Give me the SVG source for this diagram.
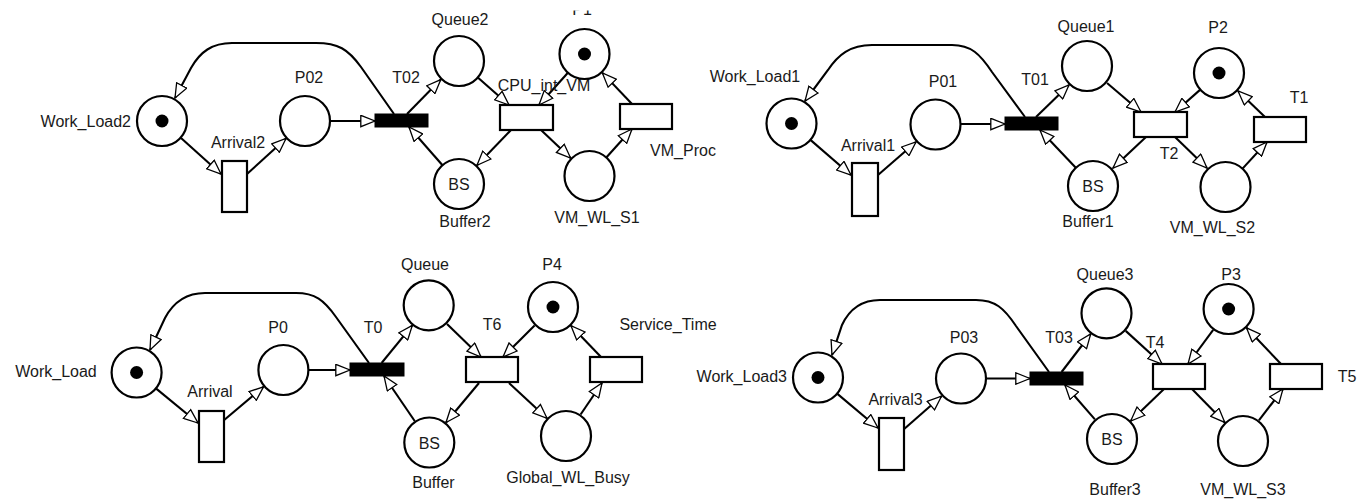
<svg xmlns="http://www.w3.org/2000/svg" width="1362" height="501" viewBox="0 0 1362 501">
<style>
.pl{fill:#fff;stroke:#000;stroke-width:2.2}
.tr{fill:#fff;stroke:#000;stroke-width:2.2}
.trb{fill:#000;stroke:#000;stroke-width:1}
.tok{fill:#000;stroke:none}
text{font-family:"Liberation Sans",Arial,sans-serif;font-size:16px;fill:#1a1a1a;text-anchor:middle}
.e{text-anchor:end}
#arcs path,#arcs line{stroke:#000;stroke-width:2.1;fill:none;marker-end:url(#ah)}
</style>
<defs>
<marker id="ah" markerUnits="userSpaceOnUse" viewBox="0 0 16 13" markerWidth="16" markerHeight="13" refX="15" refY="6.5" orient="auto">
<path d="M0.8,0.8 L15,6.5 L0.8,12.2 Z" fill="#fff" stroke="#000" stroke-width="1.3"/>
</marker>
<clipPath id="topclip"><rect x="0" y="10.5" width="1362" height="40"/></clipPath>
</defs>
<rect width="1362" height="501" fill="#fff"/>

<g id="arcs">
<!-- network A -->
<path d="M394 114 L361 67 C348 49 338 43 316 43 L232 43 C212 43 200 52 191 68 L175 98"/>
<line x1="181" y1="138" x2="221" y2="174"/>
<line x1="247" y1="174" x2="286" y2="138.5"/>
<line x1="330" y1="121" x2="375" y2="121"/>
<line x1="407" y1="114" x2="440.8" y2="79.6"/>
<line x1="442.5" y1="165.2" x2="409" y2="127"/>
<line x1="477.8" y1="77.5" x2="509" y2="105"/>
<line x1="567.9" y1="72.7" x2="539" y2="105"/>
<line x1="511" y1="130" x2="477" y2="165.3"/>
<line x1="541" y1="130" x2="570.6" y2="158.1"/>
<line x1="606.3" y1="157.5" x2="632" y2="129"/>
<line x1="632" y1="104" x2="602.4" y2="72.9"/>
<!-- network B -->
<path d="M1025 117 L992 72 C980 54 971 45 952 45 L872 45 C850 45 838 55 828 70 L805 101"/>
<line x1="810.4" y1="139.9" x2="851" y2="175"/>
<line x1="878" y1="175" x2="916" y2="142"/>
<line x1="961" y1="124" x2="1005" y2="124"/>
<line x1="1036" y1="117" x2="1069" y2="85"/>
<line x1="1075.8" y1="167.8" x2="1040" y2="130"/>
<line x1="1107" y1="83" x2="1141" y2="112"/>
<line x1="1200.3" y1="89.6" x2="1175" y2="112"/>
<line x1="1146" y1="137" x2="1113" y2="168"/>
<line x1="1175" y1="137" x2="1207" y2="168"/>
<line x1="1242.5" y1="168.6" x2="1267" y2="142"/>
<line x1="1265" y1="117" x2="1238" y2="91"/>
<!-- network C -->
<path d="M369 363 L336 317 C324 300 315 293 296 293 L205 293 C185 293 173 303 165 318 L150 350"/>
<line x1="155.9" y1="388.4" x2="198" y2="423"/>
<line x1="223" y1="421" x2="263.5" y2="386.8"/>
<line x1="308.5" y1="370" x2="350" y2="370"/>
<line x1="381.6" y1="363" x2="412.3" y2="325.4"/>
<line x1="414.7" y1="421" x2="384" y2="376"/>
<line x1="447" y1="324" x2="481" y2="357"/>
<line x1="534.6" y1="325.4" x2="503" y2="357"/>
<line x1="479" y1="383" x2="446" y2="422.5"/>
<line x1="509" y1="383" x2="547" y2="418.3"/>
<line x1="580.6" y1="414.5" x2="602" y2="383"/>
<line x1="601" y1="357" x2="571" y2="325.7"/>
<!-- network D -->
<path d="M1049 372 L1016 326 C1004 308 995 300 976 300 L880 300 C860 300 849 310 842 325 L832 355"/>
<line x1="837.1" y1="393.6" x2="878" y2="428"/>
<line x1="903" y1="430" x2="941.5" y2="396.2"/>
<line x1="987" y1="378.5" x2="1030" y2="378.5"/>
<line x1="1061.6" y1="372" x2="1090.7" y2="334"/>
<line x1="1094.9" y1="419.4" x2="1065" y2="385"/>
<line x1="1125.7" y1="330.9" x2="1162" y2="364"/>
<line x1="1213.2" y1="329.9" x2="1188" y2="364"/>
<line x1="1164" y1="389" x2="1130.7" y2="421"/>
<line x1="1192" y1="389" x2="1224.8" y2="422.4"/>
<line x1="1258.9" y1="420.4" x2="1283" y2="389"/>
<line x1="1281" y1="364" x2="1246.5" y2="327.8"/>
</g>

<!-- Network A -->
<g id="Work_Load2"><circle class="pl" cx="162" cy="121" r="25"/><circle class="tok" cx="162" cy="121" r="6.5"/><text class="e" x="131" y="127">Work_Load2</text></g>
<g id="Arrival2"><rect class="tr" x="222" y="161" width="25" height="51"/><text x="238" y="148">Arrival2</text></g>
<g id="P02"><circle class="pl" cx="305" cy="121" r="25"/><text x="309" y="83">P02</text></g>
<g id="T02"><rect class="trb" x="375" y="114" width="53" height="13"/><text x="406" y="83">T02</text></g>
<g id="Queue2"><circle class="pl" cx="459" cy="61" r="25"/><text x="460" y="25">Queue2</text></g>
<g id="Buffer2"><circle class="pl" cx="459" cy="184" r="25"/><text x="459" y="190">BS</text><text x="465" y="227">Buffer2</text></g>
<g id="CPU_int_VM"><rect class="tr" x="500" y="105" width="53" height="25"/><text x="544" y="91">CPU_int_VM</text></g>
<g id="P1"><circle class="pl" cx="584.5" cy="54" r="25"/><circle class="tok" cx="584.5" cy="54" r="6.5"/><text x="582" y="14.5" clip-path="url(#topclip)">P1</text></g>
<g id="VM_WL_S1"><circle class="pl" cx="589.5" cy="176" r="25"/><text x="597" y="223">VM_WL_S1</text></g>
<g id="VM_Proc"><rect class="tr" x="620" y="104" width="52" height="25"/><text x="683" y="156">VM_Proc</text></g>

<!-- Network B -->
<g id="Work_Load1"><circle class="pl" cx="791.5" cy="123.5" r="25"/><circle class="tok" cx="791.5" cy="123.5" r="6.5"/><text x="755" y="82">Work_Load1</text></g>
<g id="Arrival1"><rect class="tr" x="852" y="163" width="26" height="53"/><text x="868" y="151">Arrival1</text></g>
<g id="P01"><circle class="pl" cx="935.5" cy="124.5" r="25"/><text x="943" y="87">P01</text></g>
<g id="T01"><rect class="trb" x="1005" y="117" width="53" height="13"/><text x="1035" y="85">T01</text></g>
<g id="Queue1"><circle class="pl" cx="1087" cy="66" r="25"/><text x="1086" y="32">Queue1</text></g>
<g id="Buffer1"><circle class="pl" cx="1093" cy="186" r="25"/><text x="1093" y="192">BS</text><text x="1088" y="227">Buffer1</text></g>
<g id="T2"><rect class="tr" x="1134" y="112" width="53" height="25"/><text x="1169" y="159">T2</text></g>
<g id="P2"><circle class="pl" cx="1219" cy="73" r="25"/><circle class="tok" cx="1219" cy="73" r="6.5"/><text x="1218" y="33">P2</text></g>
<g id="VM_WL_S2"><circle class="pl" cx="1225.5" cy="187" r="25"/><text x="1212.5" y="233">VM_WL_S2</text></g>
<g id="T1"><rect class="tr" x="1254" y="117" width="52" height="25"/><text x="1299" y="103">T1</text></g>

<!-- Network C -->
<g id="Work_Load"><circle class="pl" cx="136.6" cy="372.5" r="25"/><circle class="tok" cx="136.6" cy="372.5" r="6.5"/><text x="56" y="377">Work_Load</text></g>
<g id="Arrival"><rect class="tr" x="199" y="411" width="25" height="51"/><text x="210" y="397">Arrival</text></g>
<g id="P0"><circle class="pl" cx="283.4" cy="370" r="25"/><text x="278" y="333">P0</text></g>
<g id="T0"><rect class="trb" x="350" y="363" width="54" height="13"/><text x="373" y="333">T0</text></g>
<g id="Queue"><circle class="pl" cx="428.7" cy="305.3" r="25"/><text x="425" y="270">Queue</text></g>
<g id="Buffer"><circle class="pl" cx="429.3" cy="442.5" r="25"/><text x="429.3" y="448.5">BS</text><text x="433.5" y="488">Buffer</text></g>
<g id="T6"><rect class="tr" x="466" y="357" width="52" height="25"/><text x="492" y="330">T6</text></g>
<g id="P4"><circle class="pl" cx="553" cy="307" r="25"/><circle class="tok" cx="553" cy="307" r="6.5"/><text x="552" y="270">P4</text></g>
<g id="Global_WL_Busy"><circle class="pl" cx="566" cy="436" r="25"/><text x="568" y="483">Global_WL_Busy</text></g>
<g id="Service_Time"><rect class="tr" x="590" y="357" width="52" height="25"/><text x="668" y="330">Service_Time</text></g>

<!-- Network D -->
<g id="Work_Load3"><circle class="pl" cx="818" cy="377.5" r="25"/><circle class="tok" cx="818" cy="377.5" r="6.5"/><text class="e" x="787" y="382">Work_Load3</text></g>
<g id="Arrival3"><rect class="tr" x="879" y="418" width="25" height="52"/><text x="895.5" y="405">Arrival3</text></g>
<g id="P03"><circle class="pl" cx="961" cy="378.5" r="25"/><text x="964" y="343">P03</text></g>
<g id="T03"><rect class="trb" x="1030" y="372" width="53" height="13"/><text x="1059" y="343">T03</text></g>
<g id="Queue3"><circle class="pl" cx="1106.5" cy="313.3" r="25"/><text x="1105" y="280">Queue3</text></g>
<g id="Buffer3"><circle class="pl" cx="1112" cy="439" r="25"/><text x="1112" y="445">BS</text><text x="1115" y="495">Buffer3</text></g>
<g id="T4"><rect class="tr" x="1153" y="364" width="52" height="25"/><text x="1155" y="348">T4</text></g>
<g id="P3"><circle class="pl" cx="1228.6" cy="309" r="25"/><circle class="tok" cx="1228.6" cy="309" r="6.5"/><text x="1231" y="280">P3</text></g>
<g id="VM_WL_S3"><circle class="pl" cx="1243" cy="441" r="25"/><text x="1243" y="495">VM_WL_S3</text></g>
<g id="T5"><rect class="tr" x="1270" y="364" width="52" height="25"/><text x="1347" y="382">T5</text></g>
</svg>
